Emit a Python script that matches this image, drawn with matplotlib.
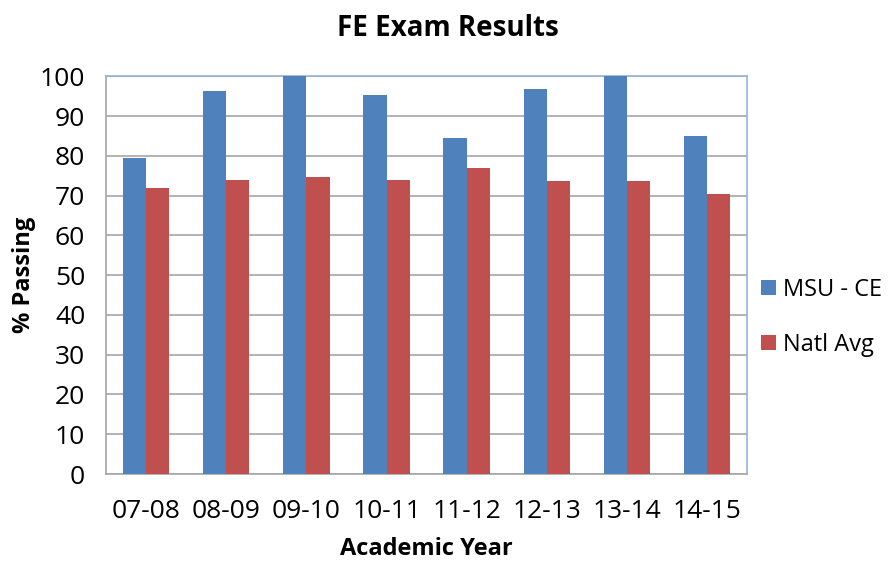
import numpy as np
import matplotlib.pyplot as plt

years = ['07-08', '08-09', '09-10', '10-11', '11-12', '12-13', '13-14', '14-15']
msu_ce = [79.4, 96.2, 100.0, 95.2, 84.5, 96.9, 100.0, 85.1]
natl_avg = [72.0, 73.8, 74.8, 73.8, 76.9, 73.6, 73.6, 70.5]

plt.rcParams['font.family'] = ['Open Sans', 'DejaVu Sans']

fig = plt.figure(figsize=(8.93, 5.65), dpi=100)
ax = fig.add_axes([0.1187, 0.161, 0.718, 0.704])

x = np.arange(len(years))
w = 0.29
ax.bar(x - w / 2, msu_ce, w, color='#4f81bd', label='MSU - CE', zorder=3)
ax.bar(x + w / 2, natl_avg, w, color='#c0504d', label='Natl Avg', zorder=3)

ax.set_xlim(-0.5, len(years) - 0.5)
ax.set_ylim(0, 100)
ax.set_yticks(range(0, 101, 10))
ax.set_xticks(x)
ax.set_xticklabels(years)
ax.tick_params(axis='both', labelsize=19, length=0)
ax.tick_params(axis='x', pad=18)
ax.tick_params(axis='y', pad=15)
ax.yaxis.grid(True, color='#a6a6a6', linewidth=1.2, zorder=0)

for side in ['top', 'right']:
    ax.spines[side].set_color('#95b3d7')
ax.spines['left'].set_color('#a6a6a6')
ax.spines['bottom'].set_color('#a6a6a6')
for s in ax.spines.values():
    s.set_linewidth(1.2)

fig.text(0.502, 0.95, 'FE Exam Results', ha='center', va='center',
         fontsize=20, fontweight='bold')
ax.set_xlabel('Academic Year', fontsize=17, fontweight='bold', labelpad=9)
ax.set_ylabel('% Passing', fontsize=17, fontweight='bold', labelpad=3)

ax.legend(loc='center left', bbox_to_anchor=(1.0, 0.394), frameon=False,
          fontsize=17, handlelength=0.6, handleheight=0.6, labelspacing=1.3,
          handletextpad=0.3, borderaxespad=0.2)

fig.savefig('out.png', dpi=100)
